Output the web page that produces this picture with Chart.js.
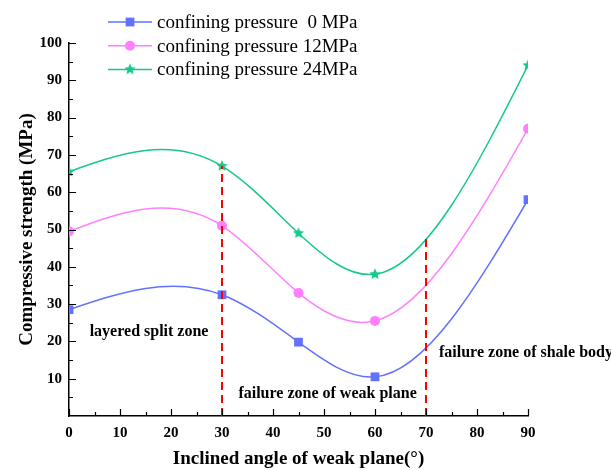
<!DOCTYPE html>
<html>
<head>
<meta charset="utf-8">
<script src="https://cdn.jsdelivr.net/npm/chart.js@4.4.1/dist/chart.umd.min.js"></script>
<style>
    html, body { margin: 0; padding: 0; background: #fff; }
</style>
</head>
<body>
<canvas id="myChart" width="611" height="470"></canvas>
<script>
// Data
const angles = [0, 30, 45, 60, 90];
const strength0 = [28.5, 32.5, 19.8, 10.5, 58];
const strength12 = [49.5, 51, 33, 25.5, 77];
const strength24 = [65.5, 67, 49, 38, 94];
const seriesNames = ['confining pressure  0 MPa', 'confining pressure 12MPa', 'confining pressure 24MPa'];
const xTicks = [0, 10, 20, 30, 40, 50, 60, 70, 80, 90];
const yTicks = [10, 20, 30, 40, 50, 60, 70, 80, 90, 100];
const zoneLines = [30, 70];
const zoneLineTops = [67, 47.5];
const zoneLabels = ['layered split zone', 'failure zone of weak plane', 'failure zone of shale body'];

const FONT = "'Liberation Serif', 'Times New Roman', serif";
Chart.defaults.font.family = FONT;
Chart.defaults.color = '#000';

// Filled five point star used as a marker
function makeStar(color, r) {
    const c = document.createElement('canvas');
    const s = Math.ceil(r * 2 + 2);
    c.width = s;
    c.height = s;
    const g = c.getContext('2d');
    g.fillStyle = color;
    g.beginPath();
    for (let i = 0; i < 10; i++) {
        const rr = i % 2 === 0 ? r : r * 0.45;
        const a = -Math.PI / 2 + i * Math.PI / 5;
        g.lineTo(s / 2 + rr * Math.cos(a), s / 2 + rr * Math.sin(a));
    }
    g.closePath();
    g.fill();
    return c;
}

const colors = ['#6272ff', '#ff80ff', '#14c98a'];
const styles = ['rect', 'circle', makeStar(colors[2], 6)];
const radii = [6.2, 5, 6];
const values = [strength0, strength12, strength24];

// Natural cubic spline slopes (dy/dx) through the given points
function naturalSlopes(xs, ys) {
    const n = xs.length;
    const h = [];
    for (let i = 0; i < n - 1; i++) h[i] = xs[i + 1] - xs[i];
    const M = new Array(n).fill(0);
    const a = [], b = [], c = [], d = [];
    for (let i = 1; i < n - 1; i++) {
        a.push(h[i - 1]);
        b.push(2 * (h[i - 1] + h[i]));
        c.push(h[i]);
        d.push(6 * ((ys[i + 1] - ys[i]) / h[i] - (ys[i] - ys[i - 1]) / h[i - 1]));
    }
    const m = b.length;
    for (let i = 1; i < m; i++) {
        const w = a[i] / b[i - 1];
        b[i] -= w * c[i - 1];
        d[i] -= w * d[i - 1];
    }
    const sol = new Array(m);
    sol[m - 1] = d[m - 1] / b[m - 1];
    for (let i = m - 2; i >= 0; i--) sol[i] = (d[i] - c[i] * sol[i + 1]) / b[i];
    for (let i = 0; i < m; i++) M[i + 1] = sol[i];
    const k = [];
    for (let i = 0; i < n; i++) {
        if (i < n - 1) k[i] = (ys[i + 1] - ys[i]) / h[i] - h[i] * (2 * M[i] + M[i + 1]) / 6;
        else k[i] = (ys[i] - ys[i - 1]) / h[i - 1] + h[i - 1] * (M[i - 1] + 2 * M[i]) / 6;
    }
    return k;
}

// Replace the bezier control points by the ones of a natural spline
const splinePlugin = {
    id: 'spline',
    beforeDatasetsDraw(chart) {
        chart.data.datasets.forEach((ds, di) => {
            const meta = chart.getDatasetMeta(di);
            const pts = meta.data;
            const xs = pts.map(p => p.x);
            const ys = pts.map(p => p.y);
            const k = naturalSlopes(xs, ys);
            pts.forEach((p, i) => {
                if (i > 0) {
                    const h = xs[i] - xs[i - 1];
                    p.cp1x = xs[i] - h / 3;
                    p.cp1y = ys[i] - k[i] * h / 3;
                }
                if (i < pts.length - 1) {
                    const h = xs[i + 1] - xs[i];
                    p.cp2x = xs[i] + h / 3;
                    p.cp2y = ys[i] + k[i] * h / 3;
                }
            });
            meta.dataset._pointsUpdated = true;
            delete meta.dataset._path;
        });
    }
};

// Inside major and minor ticks
const ticksPlugin = {
    id: 'innerTicks',
    afterDraw(chart) {
        const { ctx, chartArea, scales: { x, y } } = chart;
        ctx.save();
        ctx.strokeStyle = '#000';
        ctx.lineWidth = 1.2;
        ctx.beginPath();
        for (let v = 0; v <= 90; v += 5) {
            const px = Math.round(x.getPixelForValue(v)) + 0.5;
            const len = v % 10 === 0 ? 7 : 4;
            ctx.moveTo(px, chartArea.bottom);
            ctx.lineTo(px, chartArea.bottom - len);
        }
        for (let v = 5; v <= 100; v += 5) {
            const py = Math.round(y.getPixelForValue(v)) + 0.5;
            const len = v % 10 === 0 ? 7 : 4;
            ctx.moveTo(chartArea.left, py);
            ctx.lineTo(chartArea.left + len, py);
        }
        ctx.stroke();
        ctx.restore();
    }
};

// Dashed zone boundaries and zone names
const zonePlugin = {
    id: 'zones',
    afterDatasetsDraw(chart) {
        const { ctx, scales: { x, y } } = chart;
        ctx.save();
        ctx.strokeStyle = '#ff0000';
        ctx.lineWidth = 2;
        ctx.setLineDash([8, 5]);
        zoneLines.forEach((v, i) => {
            const px = x.getPixelForValue(v);
            ctx.beginPath();
            ctx.moveTo(px, y.getPixelForValue(0));
            ctx.lineTo(px, y.getPixelForValue(zoneLineTops[i]));
            ctx.stroke();
        });
        ctx.setLineDash([]);
        ctx.fillStyle = '#000';
        ctx.font = 'bold 16px ' + FONT;
        ctx.textAlign = 'center';
        ctx.textBaseline = 'middle';
        ctx.fillText(zoneLabels[0], x.getPixelForValue(15.7), y.getPixelForValue(22.5));
        ctx.fillText(zoneLabels[1], x.getPixelForValue(50.7), y.getPixelForValue(5.9));
        ctx.fillText(zoneLabels[2], x.getPixelForValue(89.6), y.getPixelForValue(16.9));
        ctx.restore();
    }
};

// Legend with a line and a marker for every series
const legendPlugin = {
    id: 'lineLegend',
    afterDraw(chart) {
        const ctx = chart.ctx;
        ctx.save();
        chart.data.datasets.forEach((ds, i) => {
            const cy = 22 + i * 23.7;
            ctx.strokeStyle = colors[i];
            ctx.lineWidth = 1.5;
            ctx.beginPath();
            ctx.moveTo(108, cy);
            ctx.lineTo(152, cy);
            ctx.stroke();
            ctx.fillStyle = colors[i];
            Chart.helpers.drawPoint(ctx, { pointStyle: styles[i], radius: radii[i], rotation: 0, borderWidth: 0 }, 130, cy);
            ctx.fillStyle = '#000';
            ctx.font = '19px ' + FONT;
            ctx.textAlign = 'left';
            ctx.textBaseline = 'middle';
            ctx.fillText(seriesNames[i], 157, cy + 1);
        });
        ctx.restore();
    }
};

const ctx = document.getElementById('myChart').getContext('2d');
window.myChart = new Chart(ctx, {
    type: 'line',
    data: {
        datasets: values.map((vals, i) => ({
            label: seriesNames[i],
            data: angles.map((a, j) => ({ x: a, y: vals[j] })),
            borderColor: colors[i],
            backgroundColor: colors[i],
            borderWidth: 1.5,
            pointStyle: styles[i],
            pointRadius: radii[i],
            pointBorderWidth: 0,
            tension: 0.4,
            fill: false
        }))
    },
    options: {
        responsive: false,
        animation: false,
        devicePixelRatio: 1,
        layout: { padding: { top: 43, right: 83, left: 0, bottom: 0 } },
        scales: {
            x: {
                type: 'linear',
                min: 0,
                max: 90,
                afterFit: s => { s.height = 54; },
                afterBuildTicks: s => { s.ticks = xTicks.map(v => ({ value: v })); },
                grid: { display: true, drawOnChartArea: false, drawTicks: false },
                border: { display: true, color: '#000', width: 1.5 },
                ticks: { padding: 8, maxRotation: 0, font: { size: 15, weight: 'bold' } },
                title: {
                    display: true,
                    text: 'Inclined angle of weak plane(°)',
                    font: { size: 19, weight: 'bold' },
                    padding: { top: 0, bottom: 0 }
                }
            },
            y: {
                type: 'linear',
                min: 0,
                max: 100,
                afterFit: s => { s.width = 69; },
                afterBuildTicks: s => { s.ticks = yTicks.map(v => ({ value: v })); },
                grid: { display: true, drawOnChartArea: false, drawTicks: false },
                border: { display: true, color: '#000', width: 1.5 },
                ticks: { padding: 7, font: { size: 15, weight: 'bold' } },
                title: {
                    display: true,
                    text: 'Compressive strength (MPa)',
                    font: { size: 19, weight: 'bold' },
                    padding: { top: 16, bottom: 0 }
                }
            }
        },
        plugins: {
            legend: { display: false },
            tooltip: { enabled: false }
        }
    },
    plugins: [splinePlugin, zonePlugin, ticksPlugin, legendPlugin]
});
</script>
</body>
</html>
